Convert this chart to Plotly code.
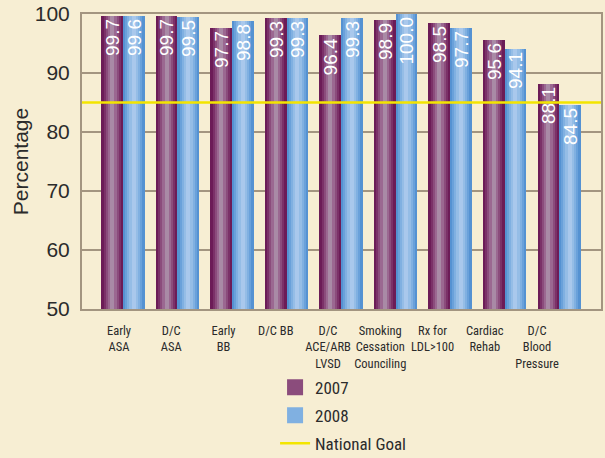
import plotly.graph_objects as go

# ---------------- data ----------------
categories = ["Early<br>ASA", "D/C<br>ASA", "Early<br>BB", "D/C BB", "D/C<br>ACE/ARB<br>LVSD",
              "Smoking<br>Cessation<br>Counciling", "Rx for<br>LDL>100", "Cardiac<br>Rehab",
              "D/C<br>Blood<br>Pressure"]
values_2007 = [99.7, 99.7, 97.7, 99.3, 96.4, 98.9, 98.5, 95.6, 88.1]
values_2008 = [99.6, 99.5, 98.8, 99.3, 99.3, 100.0, 97.7, 94.1, 84.5]
national_goal = 85
y_ticks = [50, 60, 70, 80, 90, 100]

# ---------------- style ----------------
BG = "#f7eed3"
FRAME = "#a39580"
BAR_W = 0.395
purple_layers = ["#6c1c57", "#7b3168", "#8b4c7c", "#9b6891", "#a98aa6"]
blue_layers = ["#5592d2", "#6aa1da", "#80b0e1", "#95bde6", "#a9c8ec"]
layer_fracs = [1.0, 0.8, 0.6, 0.4, 0.2]
LABEL_OFFSET, LABEL_STEP = -0.073, 0.9587
NARROW = "Roboto Condensed, Liberation Sans Narrow, Arial Narrow, Roboto, sans-serif"

xpos = list(range(len(categories)))
fig = go.Figure()

def add_series(name, vals, colors, center, group, rank):
    for frac, col in zip(layer_fracs, colors):
        w = BAR_W * frac
        fig.add_trace(go.Bar(
            x=xpos, y=vals, width=w, offset=center - w / 2,
            marker=dict(color=col, line=dict(width=0)),
            name=name, showlegend=False, hoverinfo="skip"))
    # text carrier (transparent) on top
    fig.add_trace(go.Bar(
        x=xpos, y=vals, width=BAR_W, offset=center - BAR_W / 2,
        marker=dict(color="rgba(0,0,0,0)", line=dict(width=0)),
        text=[f"{v:.1f}" for v in vals], textposition="inside", insidetextanchor="end",
        textangle=-90, textfont=dict(color="white", size=19, family="Liberation Sans, Arial, sans-serif"),
        showlegend=False, hoverinfo="skip"))
    # legend entry
    fig.add_trace(go.Scatter(
        x=[None], y=[None], name=name, mode="markers",
        marker=dict(symbol="square", size=16, color=colors[2]),
        legendgroup=group, legendrank=rank, showlegend=True))

add_series("2007", values_2007, purple_layers, -BAR_W / 2, "g1", 1)
add_series("2008", values_2008, blue_layers, BAR_W / 2, "g2", 2)

fig.add_shape(type="line", xref="paper", x0=0, x1=1, yref="y", y0=national_goal, y1=national_goal,
              line=dict(color="#f3e500", width=2.5), layer="above",
              showlegend=True, name="National Goal", legendgroup="g3", legendrank=3)

fig.update_layout(
    width=605, height=458,
    paper_bgcolor=BG, plot_bgcolor=BG,
    margin=dict(l=82, r=4, t=14, b=149, autoexpand=False),
    barmode="overlay", bargap=0,
    uniformtext=dict(minsize=19, mode="show"),
    font=dict(family="Liberation Sans, Arial, sans-serif", color="#2b2b2b"),
    showlegend=True,
    legend=dict(x=0.372, xanchor="left", xref="paper", y=0.193, yanchor="top", yref="container",
                bgcolor="rgba(0,0,0,0)", borderwidth=0,
                font=dict(size=17, family=NARROW, color="#2b2b2b"), traceorder="grouped",
                tracegroupgap=3, itemsizing="trace"),
)
fig.update_xaxes(
    range=[-0.752, 8.77], tickmode="array", automargin=False, tickangle=0,
    tickvals=[LABEL_OFFSET + i * LABEL_STEP for i in xpos], ticktext=categories,
    tickfont=dict(size=12.5, family=NARROW, color="#2b2b2b"),
    showgrid=False, zeroline=False, showline=True, mirror=True, linecolor=FRAME, linewidth=2,
    ticks="outside", ticklen=9, tickcolor="rgba(0,0,0,0)",
)
fig.update_yaxes(
    range=[50, 100], tickvals=y_ticks, tickfont=dict(size=21, color="#2b2b2b"), automargin=False,
    showgrid=True, gridcolor=FRAME, gridwidth=2, zeroline=False,
    showline=True, mirror=True, linecolor=FRAME, linewidth=2,
    ticks="outside", ticklen=6, tickcolor="rgba(0,0,0,0)",
    title=dict(text="Percentage", font=dict(size=21, color="#2b2b2b"), standoff=0),
)

fig.write_html("out.html", config={"displayModeBar": False},
               post_script="document.body.style.margin='0';")
